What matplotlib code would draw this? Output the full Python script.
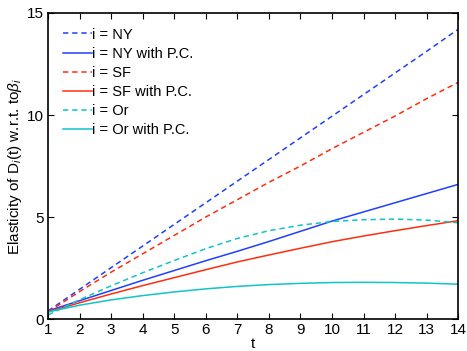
import numpy as np
import matplotlib
matplotlib.use('Agg')
import matplotlib.pyplot as plt

plt.rcParams['font.family'] = ['Liberation Sans', 'DejaVu Sans']
plt.rcParams['mathtext.fontset'] = 'custom'
plt.rcParams['mathtext.rm'] = 'Liberation Sans'
plt.rcParams['mathtext.it'] = 'Liberation Sans:italic'

t = np.arange(1, 15)

# Elasticity values
ny = [0.4, 1.46, 2.52, 3.58, 4.64, 5.7, 6.76, 7.82, 8.88, 9.94, 11.0, 12.06, 13.12, 14.2]
ny_pc = [0.4, 0.9, 1.4, 1.9, 2.38, 2.86, 3.32, 3.8, 4.3, 4.8, 5.25, 5.7, 6.15, 6.6]
sf = [0.35, 1.35, 2.3, 3.2, 4.1, 5.0, 5.85, 6.7, 7.5, 8.35, 9.15, 9.95, 10.8, 11.6]
sf_pc = [0.35, 0.8, 1.23, 1.64, 2.03, 2.42, 2.8, 3.14, 3.47, 3.79, 4.07, 4.33, 4.58, 4.82]
orr = [0.2, 0.95, 1.63, 2.27, 2.87, 3.45, 3.95, 4.33, 4.6, 4.78, 4.87, 4.9, 4.85, 4.72]
or_pc = [0.35, 0.68, 0.94, 1.15, 1.33, 1.48, 1.6, 1.69, 1.75, 1.79, 1.8, 1.79, 1.76, 1.71]

blue = '#1f3fff'
red = '#ff2d0f'
cyan = '#10c4c8'
dash = (3.5, 2.5)

fig = plt.figure(figsize=(4.67, 3.51), dpi=100)
ax = fig.add_axes([0.103, 0.091, 0.878, 0.872])

ax.plot(t, ny, '--', dashes=dash, color=blue, lw=1.1, label='i = NY')
ax.plot(t, ny_pc, '-', color=blue, lw=1.1, label='i = NY with P.C.')
ax.plot(t, sf, '--', dashes=dash, color=red, lw=1.1, label='i = SF')
ax.plot(t, sf_pc, '-', color=red, lw=1.1, label='i = SF with P.C.')
ax.plot(t, orr, '--', dashes=dash, color=cyan, lw=1.1, label='i = Or')
ax.plot(t, or_pc, '-', color=cyan, lw=1.1, label='i = Or with P.C.')

ax.set_xlim(1, 14)
ax.set_ylim(0, 15)
ax.set_xticks(t)
ax.set_yticks([0, 5, 10, 15])
ax.tick_params(direction='in', top=True, right=True, labelsize=11, length=4, pad=3)
for s in ax.spines.values():
    s.set_linewidth(1.2)

ax.set_xlabel('t', fontsize=11, labelpad=0)
ax.set_ylabel(r'Elasticity of D$_i$(t) w.r.t. to$\beta_i$', fontsize=11, labelpad=2)

ax.legend(loc='upper left', frameon=False, fontsize=10.5, handlelength=2.0,
          handletextpad=0.0, labelspacing=0.35, borderaxespad=0.6)

fig.savefig('out.png', dpi=100)
